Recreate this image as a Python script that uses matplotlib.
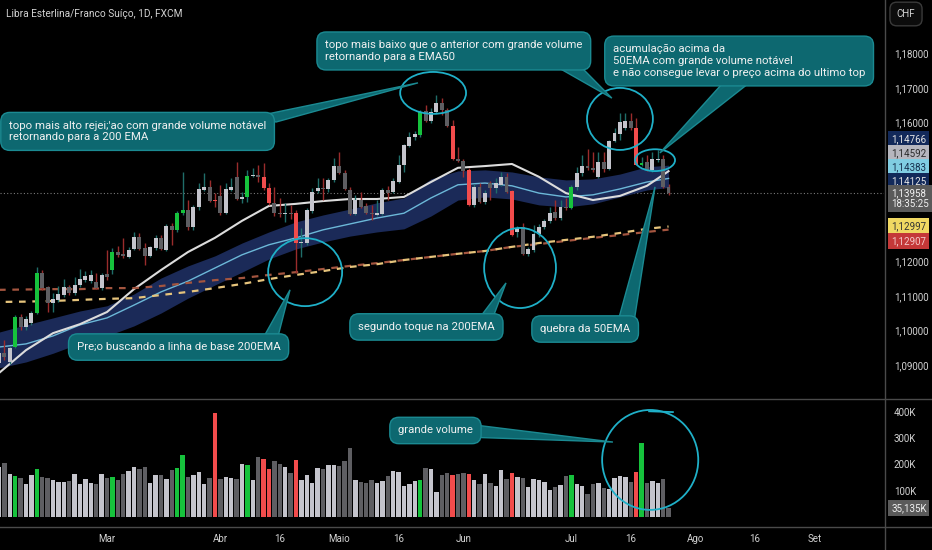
import matplotlib
matplotlib.use("Agg")
import matplotlib.pyplot as plt
import matplotlib.transforms as mtransforms
from matplotlib.patches import Ellipse, Polygon
from matplotlib.lines import Line2D
from matplotlib.ticker import FuncFormatter
import numpy as np
import pandas as pd

# ── data: GBP/CHF daily candles, 2 Feb – 25 Jul 2024 ────────────────
dates = pd.bdate_range("2024-02-02", periods=125)

opens = [
    1.0906, 1.0934, 1.0909, 1.0952, 1.1039, 1.1010, 1.1021, 1.1050, 1.1165, 1.1125,
    1.1079, 1.1088, 1.1103, 1.1125, 1.1108, 1.1131, 1.1145, 1.1142, 1.1139, 1.1122,
    1.1163, 1.1174, 1.1226, 1.1221, 1.1212, 1.1235, 1.1270, 1.1238, 1.1215, 1.1238,
    1.1267, 1.1232, 1.1301, 1.1290, 1.1338, 1.1347, 1.1298, 1.1356, 1.1405, 1.1414,
    1.1376, 1.1388, 1.1338, 1.1405, 1.1443, 1.1379, 1.1385, 1.1446, 1.1449, 1.1443,
    1.1411, 1.1367, 1.1338, 1.1336, 1.1338, 1.1338, 1.1252, 1.1252, 1.1344, 1.1402,
    1.1411, 1.1408, 1.1434, 1.1474, 1.1454, 1.1405, 1.1336, 1.1376, 1.1359, 1.1338,
    1.1333, 1.1336, 1.1405, 1.1399, 1.1428, 1.1477, 1.1532, 1.1558, 1.1564, 1.1633,
    1.1604, 1.1630, 1.1656, 1.1636, 1.1590, 1.1494, 1.1488, 1.1463, 1.1362, 1.1414,
    1.1370, 1.1425, 1.1411, 1.1420, 1.1443, 1.1402, 1.1284, 1.1298, 1.1221, 1.1232,
    1.1278, 1.1298, 1.1316, 1.1341, 1.1324, 1.1356, 1.1353, 1.1414, 1.1454, 1.1474,
    1.1469, 1.1443, 1.1485, 1.1466, 1.1546, 1.1567, 1.1584, 1.1604, 1.1584, 1.1477,
    1.1485, 1.1463, 1.1491, 1.1494, 1.1414,
]
highs = [
    1.0943, 1.0972, 1.0955, 1.1045, 1.1047, 1.1042, 1.1056, 1.1183, 1.1174, 1.1128,
    1.1108, 1.1128, 1.1148, 1.1131, 1.1154, 1.1177, 1.1171, 1.1174, 1.1165, 1.1165,
    1.1232, 1.1238, 1.1244, 1.1267, 1.1241, 1.1284, 1.1281, 1.1252, 1.1244, 1.1275,
    1.1275, 1.1307, 1.1310, 1.1344, 1.1457, 1.1376, 1.1362, 1.1425, 1.1454, 1.1434,
    1.1396, 1.1420, 1.1425, 1.1440, 1.1485, 1.1399, 1.1463, 1.1469, 1.1477, 1.1483,
    1.1425, 1.1414, 1.1382, 1.1367, 1.1362, 1.1347, 1.1295, 1.1353, 1.1411, 1.1440,
    1.1440, 1.1440, 1.1497, 1.1514, 1.1463, 1.1414, 1.1391, 1.1399, 1.1367, 1.1362,
    1.1376, 1.1411, 1.1417, 1.1440, 1.1506, 1.1538, 1.1572, 1.1575, 1.1636, 1.1651,
    1.1642, 1.1679, 1.1671, 1.1642, 1.1607, 1.1529, 1.1494, 1.1469, 1.1422, 1.1425,
    1.1405, 1.1431, 1.1440, 1.1457, 1.1454, 1.1405, 1.1301, 1.1310, 1.1241, 1.1304,
    1.1307, 1.1321, 1.1356, 1.1376, 1.1376, 1.1382, 1.1420, 1.1472, 1.1506, 1.1523,
    1.1514, 1.1514, 1.1514, 1.1549, 1.1584, 1.1627, 1.1627, 1.1627, 1.1613, 1.1500,
    1.1506, 1.1514, 1.1520, 1.1506, 1.1422,
]
lows = [
    1.0898, 1.0915, 1.0903, 1.0949, 1.1001, 1.1001, 1.1016, 1.1047, 1.1117, 1.1053,
    1.1053, 1.1082, 1.1097, 1.1103, 1.1103, 1.1125, 1.1139, 1.1136, 1.1119, 1.1117,
    1.1145, 1.1163, 1.1212, 1.1209, 1.1209, 1.1232, 1.1232, 1.1189, 1.1212, 1.1232,
    1.1232, 1.1229, 1.1247, 1.1284, 1.1333, 1.1290, 1.1290, 1.1347, 1.1402, 1.1370,
    1.1356, 1.1333, 1.1336, 1.1402, 1.1376, 1.1367, 1.1370, 1.1443, 1.1428, 1.1405,
    1.1362, 1.1330, 1.1327, 1.1313, 1.1321, 1.1165, 1.1212, 1.1247, 1.1338, 1.1396,
    1.1376, 1.1399, 1.1428, 1.1451, 1.1405, 1.1333, 1.1333, 1.1353, 1.1336, 1.1318,
    1.1330, 1.1333, 1.1376, 1.1396, 1.1425, 1.1457, 1.1529, 1.1549, 1.1558, 1.1601,
    1.1598, 1.1627, 1.1622, 1.1587, 1.1491, 1.1485, 1.1443, 1.1359, 1.1356, 1.1367,
    1.1365, 1.1376, 1.1396, 1.1417, 1.1396, 1.1272, 1.1270, 1.1218, 1.1215, 1.1226,
    1.1270, 1.1293, 1.1310, 1.1318, 1.1318, 1.1347, 1.1350, 1.1405, 1.1446, 1.1463,
    1.1457, 1.1440, 1.1457, 1.1463, 1.1543, 1.1549, 1.1578, 1.1578, 1.1477, 1.1474,
    1.1460, 1.1457, 1.1485, 1.1411, 1.1391,
]
closes = [
    1.0934, 1.0923, 1.0949, 1.1039, 1.1010, 1.1033, 1.1050, 1.1165, 1.1122, 1.1079,
    1.1091, 1.1105, 1.1125, 1.1108, 1.1131, 1.1148, 1.1157, 1.1160, 1.1122, 1.1160,
    1.1154, 1.1226, 1.1218, 1.1215, 1.1232, 1.1270, 1.1235, 1.1215, 1.1241, 1.1267,
    1.1235, 1.1301, 1.1290, 1.1338, 1.1347, 1.1298, 1.1356, 1.1408, 1.1414, 1.1373,
    1.1373, 1.1338, 1.1408, 1.1414, 1.1379, 1.1385, 1.1446, 1.1449, 1.1443, 1.1411,
    1.1367, 1.1338, 1.1336, 1.1338, 1.1336, 1.1252, 1.1255, 1.1347, 1.1399, 1.1411,
    1.1408, 1.1434, 1.1474, 1.1454, 1.1408, 1.1336, 1.1376, 1.1356, 1.1338, 1.1336,
    1.1338, 1.1405, 1.1396, 1.1431, 1.1477, 1.1535, 1.1558, 1.1567, 1.1630, 1.1604,
    1.1630, 1.1656, 1.1636, 1.1590, 1.1494, 1.1488, 1.1460, 1.1362, 1.1414, 1.1370,
    1.1396, 1.1411, 1.1425, 1.1443, 1.1399, 1.1275, 1.1295, 1.1221, 1.1235, 1.1278,
    1.1298, 1.1316, 1.1338, 1.1324, 1.1356, 1.1353, 1.1414, 1.1454, 1.1474, 1.1469,
    1.1463, 1.1485, 1.1466, 1.1546, 1.1569, 1.1601, 1.1604, 1.1584, 1.1477, 1.1483,
    1.1463, 1.1494, 1.1494, 1.1414, 1.13958,
]
volume_k = [
    190, 206, 162, 155, 148, 127, 158, 181, 151, 148,
    139, 133, 133, 136, 165, 124, 146, 130, 127, 162,
    148, 151, 142, 162, 174, 191, 184, 189, 128, 161,
    161, 146, 179, 185, 234, 151, 161, 170, 124, 148,
    397, 144, 151, 148, 144, 200, 196, 139, 227, 222,
    181, 212, 200, 191, 166, 215, 139, 161, 129, 185,
    181, 196, 199, 194, 212, 261, 139, 133, 130, 142,
    130, 136, 157, 176, 172, 118, 124, 136, 139, 185,
    181, 96, 161, 166, 158, 162, 169, 162, 139, 124,
    163, 130, 118, 179, 144, 166, 151, 148, 115, 146,
    139, 133, 103, 115, 120, 157, 161, 127, 118, 87,
    124, 130, 111, 105, 148, 155, 151, 133, 170, 283,
    130, 136, 130, 146, 35.135,
]
# bars the indicator paints green / red (notable volume)
green_bars = [3, 7, 21, 33, 34, 46, 78, 106, 119]
red_bars = [40, 49, 50, 55, 84, 87, 95, 118]

# indicator lines, read every 5 bars
ind_idx = [0, 5, 10, 15, 20, 25, 30, 35, 40, 45, 50, 55, 60, 65, 70,
           75, 80, 85, 90, 95, 100, 105, 110, 115, 120, 124]
ema_fast = [1.0877, 1.0943, 1.0992, 1.1018, 1.1053, 1.1119, 1.1174, 1.1226, 1.1267,
            1.1316, 1.1359, 1.1365, 1.1373, 1.1379, 1.1379, 1.1385, 1.1428, 1.1469,
            1.1474, 1.1480, 1.1443, 1.1396, 1.1376, 1.1388, 1.1417, 1.14592]
ema50 = [1.0952, 1.0961, 1.0984, 1.1016, 1.1036, 1.1073, 1.1111, 1.1142, 1.1180,
         1.1218, 1.1247, 1.1267, 1.1290, 1.1307, 1.1324, 1.1338, 1.1382, 1.1420,
         1.1425, 1.1417, 1.1396, 1.1385, 1.1391, 1.1408, 1.1428, 1.14383]
band_hi = [1.0995, 1.1016, 1.1036, 1.1056, 1.1071, 1.1105, 1.1151, 1.1186, 1.1215,
           1.1252, 1.1284, 1.1313, 1.1333, 1.1350, 1.1368, 1.1382, 1.1437, 1.1460,
           1.1463, 1.1457, 1.1443, 1.1434, 1.1437, 1.1451, 1.1472, 1.14766]
band_lo = [1.0892, 1.0909, 1.0934, 1.0963, 1.0984, 1.1013, 1.1050, 1.1093, 1.1131,
           1.1168, 1.1206, 1.1235, 1.1255, 1.1272, 1.1284, 1.1293, 1.1330, 1.1376,
           1.1385, 1.1379, 1.1362, 1.1356, 1.1365, 1.1385, 1.1405, 1.14125]
ma200_a = [1.1117, 1.1118, 1.1119, 1.1119, 1.1122, 1.1122, 1.1128, 1.1137, 1.1145,
           1.1151, 1.1160, 1.1168, 1.1177, 1.1186, 1.1194, 1.1203, 1.1212, 1.1221,
           1.1229, 1.1241, 1.1249, 1.1258, 1.1267, 1.1275, 1.1284, 1.12907]
ma200_b = [1.1082, 1.1083, 1.1085, 1.1088, 1.1091, 1.1093, 1.1102, 1.1111, 1.1122,
           1.1134, 1.1148, 1.1160, 1.1171, 1.1183, 1.1191, 1.1203, 1.1212, 1.1221,
           1.1229, 1.1241, 1.1252, 1.1261, 1.1270, 1.1281, 1.1293, 1.12997]

price_ticks = [1.09, 1.10, 1.11, 1.12, 1.16, 1.17, 1.18]
tick_dates = ["2024-03-01", "2024-04-01", "2024-04-16", "2024-05-01", "2024-05-16",
              "2024-06-03", "2024-07-01", "2024-07-16", "2024-08-01", "2024-08-16",
              "2024-09-02"]
tick_labels = ["Mar", "Abr", "16", "Maio", "16", "Jun", "Jul", "16", "Ago", "16", "Set"]

# ── colours / fonts ──────────────────────────────────────────────────
BG = "#000000"
LIGHT, DARK, GREEN, RED = "#c4c4cc", "#5e5e62", "#16c23c", "#f24c4c"
WICK_UP, WICK_DN = "#1f6d69", "#9a2c2c"
TEAL, TEAL_EDGE = "#0d6870", "#1b8a92"
CYAN = "#1fb0c8"
GRID_TXT = "#d2d2d2"
plt.rcParams["font.family"] = ["Roboto", "DejaVu Sans"]

W, H = 932, 550
fig = plt.figure(figsize=(W / 100, H / 100), dpi=100)
fig.patch.set_facecolor(BG)


def px_rect(x0, y0, x1, y1):
    return [x0 / W, 1 - y1 / H, (x1 - x0) / W, (y1 - y0) / H]


ax = fig.add_axes(px_rect(0, 0, 884, 398))
axv = fig.add_axes(px_rect(0, 399, 884, 527), sharex=ax)
for a in (ax, axv):
    a.set_facecolor(BG)
    for s in a.spines.values():
        s.set_visible(False)

x = np.arange(len(closes))
o, h, l, c = map(np.array, (opens, highs, lows, closes))
up = c >= o
body_col = np.where(up, LIGHT, DARK).astype(object)
body_col[green_bars] = GREEN
body_col[red_bars] = RED
wick_col = np.where(up, WICK_UP, WICK_DN)

# ── indicators ───────────────────────────────────────────────────────
ax.fill_between(ind_idx, band_lo, band_hi, color="#1b2a58", lw=0, zorder=1)
ax.plot(ind_idx, ema50, color="#6cb8d8", lw=1.0, zorder=2)
ax.plot(ind_idx, ema_fast, color="#dcdcdc", lw=1.5, zorder=2)
ax.plot(ind_idx, ma200_a, color="#a4553f", lw=1.6, ls=(0, (3, 3)), zorder=2)
ax.plot(ind_idx, ma200_b, color="#e6c47c", lw=1.6, ls=(3, (3, 3)), zorder=2)
ax.axhline(closes[-1], color="#7a7a7a", lw=0.8, ls=(0, (1, 2)), zorder=0)

# ── candles ──────────────────────────────────────────────────────────
ax.vlines(x, l, h, colors=wick_col, lw=1, zorder=3)
ax.bar(x, np.maximum(np.abs(c - o), 0.00028), bottom=np.minimum(o, c),
       width=0.72, color=body_col, lw=0, zorder=4)

ax.set_xlim(0.19, 163.9)
ax.set_ylim(1.0805, 1.1953)
ax.yaxis.tick_right()
ax.set_yticks(price_ticks)
ax.yaxis.set_major_formatter(FuncFormatter(lambda v, p: f"{v:.5f}".replace(".", ",")))
ax.tick_params(axis="y", length=0, pad=7, labelsize=7, colors=GRID_TXT)
ax.tick_params(axis="x", length=0, labelbottom=False)

# ── volume ───────────────────────────────────────────────────────────
axv.bar(x, volume_k, width=0.8, color=body_col, lw=0)
axv.set_ylim(-38, 448.7)
axv.yaxis.tick_right()
axv.set_yticks([100, 200, 300, 400])
axv.yaxis.set_major_formatter(FuncFormatter(lambda v, p: f"{v:.0f}K"))
axv.tick_params(axis="y", length=0, pad=7, labelsize=7, colors=GRID_TXT)

all_days = pd.bdate_range("2024-02-02", "2024-09-30")
tick_pos = [all_days.searchsorted(pd.Timestamp(d)) for d in tick_dates]
axv.set_xticks(tick_pos)
axv.set_xticklabels(tick_labels)
axv.tick_params(axis="x", length=0, pad=5, labelsize=7, colors=GRID_TXT)

# ── callouts ─────────────────────────────────────────────────────────
def callout(a, tx, ty, text, tail):
    a.text(tx, ty, text, ha="left", va="center", fontsize=8.2, color="#f0f0f0",
           linespacing=1.2, zorder=11,
           bbox=dict(boxstyle="round,pad=0.72,rounding_size=0.8",
                     fc=TEAL, ec=TEAL_EDGE, lw=1))
    a.add_patch(Polygon(tail, closed=True, fc=TEAL, ec=TEAL_EDGE, lw=1, zorder=10))


callout(ax, 1.85, 1.1574,
        "topo mais alto rejei;'ao com grande volume notável\nretornando para a 200 EMA",
        [(48.7, 1.1621), (51.3, 1.1601), (77.6, 1.1714)])
callout(ax, 60.4, 1.1806,
        "topo mais baixo que o anterior com grande volume\nretornando para a EMA50",
        [(103.0, 1.1763), (107.6, 1.1763), (113.5, 1.1670)])
callout(ax, 113.7, 1.1777,
        "acumulação acima da\n50EMA com grande volume notável\n"
        "e não consegue levar o preço acima do ultimo top",
        [(133.9, 1.1711), (138.7, 1.1711), (122.4, 1.1512)])
callout(ax, 14.4, 1.0952, "Pre;o buscando a linha de base 200EMA",
        [(48.7, 1.0972), (51.5, 1.0972), (53.9, 1.1117)])
callout(ax, 66.5, 1.1010, "segundo toque na 200EMA",
        [(88.7, 1.1030), (91.3, 1.1030), (93.9, 1.1137)])
callout(ax, 100.2, 1.1004, "quebra da 50EMA",
        [(114.6, 1.1024), (117.6, 1.1024), (121.5, 1.1414)])
callout(axv, 73.9, 329, "grande volume",
        [(86.5, 354), (86.5, 304), (113.7, 285)])

# hand-drawn circles
for cx, cy, w, hh in [(80.4, 1.1685, 12.2, 0.0121), (56.7, 1.1168, 13.7, 0.0196),
                      (96.5, 1.1180, 13.3, 0.0231), (115.0, 1.1610, 12.2, 0.0179),
                      (121.5, 1.1491, 7.4, 0.0063)]:
    ax.add_patch(Ellipse((cx, cy), w, hh, fill=False, ec=CYAN, lw=1.3, zorder=9))
axv.add_patch(Ellipse((120.6, 217), 17.8, 380, fill=False, ec=CYAN, lw=1.3, zorder=9))
axv.plot([120.4, 124.8], [402, 399], color=CYAN, lw=1.3, zorder=9)

# ── price-scale tags ─────────────────────────────────────────────────
blend = mtransforms.blended_transform_factory(ax.transAxes, ax.transData)
tags = [("1,14766", 1.1552, "#12295a", "#e6e6e6"),
        ("1,14592", 1.1512, "#b6b6be", "#2a2a2a"),
        ("1,14383", 1.1471, "#80cde2", "#16304e"),
        ("1,14125", 1.1431, "#12295a", "#e6e6e6"),
        ("1,13958\n18:35:25", 1.1380, "#5a5a5a", "#f0f0f0"),
        ("1,12997", 1.1301, "#f0d862", "#333333"),
        ("1,12907", 1.1258, "#c43838", "#f4caca")]
for txt, pos, bg, fg in tags:
    ax.text(1.008, pos, txt, transform=blend, ha="left", va="center", fontsize=7,
            color=fg, linespacing=1.1, clip_on=False, zorder=12,
            bbox=dict(boxstyle="square,pad=0.3", fc=bg, ec="none"))
vblend = mtransforms.blended_transform_factory(axv.transAxes, axv.transData)
axv.text(1.008, volume_k[-1], "35,135K", transform=vblend, ha="left", va="center",
         fontsize=7, color="#f0f0f0", clip_on=False,
         bbox=dict(boxstyle="square,pad=0.3", fc="#5a5a5a", ec="none"))

fig.text(906 / W, 1 - 14 / H, "CHF", ha="center", va="center", fontsize=7, color=GRID_TXT,
         bbox=dict(boxstyle="round,pad=0.7", fc="#0c0c0c", ec="#3a3a3a"))
fig.text(6 / W, 1 - 14 / H, "Libra Esterlina/Franco Suíço, 1D, FXCM",
         ha="left", va="center", fontsize=7.3, color=GRID_TXT)

# pane separators
for y in (398.5, 527):
    fig.add_artist(Line2D([0, 1], [1 - y / H] * 2, transform=fig.transFigure,
                          color="#4a4a4a", lw=1))
fig.add_artist(Line2D([884.5 / W] * 2, [0, 1], transform=fig.transFigure,
                      color="#4a4a4a", lw=1))

fig.savefig("out.png", dpi=100, facecolor=BG)
